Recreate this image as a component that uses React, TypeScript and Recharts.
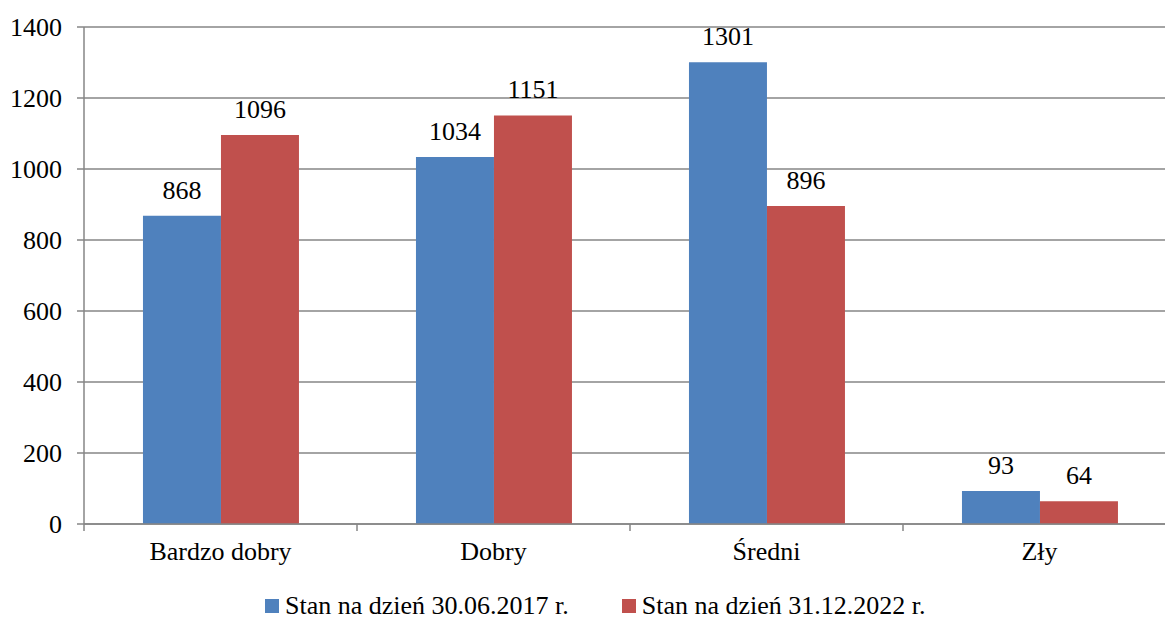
import { BarChart, Bar, XAxis, YAxis, CartesianGrid, Legend, LabelList } from 'recharts';

const categories = ['Bardzo dobry', 'Dobry', 'Średni', 'Zły'];
const stan2017 = [868, 1034, 1301, 93];
const stan2022 = [1096, 1151, 896, 64];
const yTicks = [0, 200, 400, 600, 800, 1000, 1200, 1400];

const series = [
  { key: 'stan2017', name: 'Stan na dzień 30.06.2017 r.', color: '#4F81BD' },
  { key: 'stan2022', name: 'Stan na dzień 31.12.2022 r.', color: '#C0504D' },
];

const data = categories.map((name, i) => ({
  name,
  stan2017: stan2017[i],
  stan2022: stan2022[i],
}));

const FONT = "'Liberation Serif', 'DejaVu Serif', serif";
const AXIS = '#868686';

const CHART_W = 1170;
const CHART_H = 611;
const Y_W = 76;
const M_RIGHT = 2;
const BAND = (CHART_W - Y_W - M_RIGHT) / categories.length;

const txt = { fontFamily: FONT, fontSize: 26 };

function CategoryTick(props: any) {
  const { x, y, payload } = props;
  const bx = x - BAND / 2;
  return (
    <g>
      <line x1={bx} y1={y - 9} x2={bx} y2={y - 2} stroke={AXIS} strokeWidth={1.5} />
      <text x={x} y={y} dy={27} textAnchor="middle" style={txt} fill="#000">
        {payload.value}
      </text>
    </g>
  );
}

function LegendContent() {
  return (
    <div style={{ display: 'flex', alignItems: 'center', ...txt, lineHeight: '26px', color: '#000', whiteSpace: 'nowrap' }}>
      {series.map((s, i) => (
        <div key={s.key} style={{ display: 'flex', alignItems: 'center', marginLeft: i === 0 ? 0 : 53 }}>
          <span style={{ display: 'inline-block', width: 14, height: 14, background: s.color, marginRight: 6 }} />
          <span>{s.name}</span>
        </div>
      ))}
    </div>
  );
}

export default function App() {
  return (
    <div style={{ position: 'absolute', left: 8, top: 8, width: 1157, height: CHART_H, overflow: 'hidden', fontFamily: FONT }}>
      <BarChart
        width={CHART_W}
        height={CHART_H}
        data={data}
        margin={{ top: 19, right: M_RIGHT, left: 0, bottom: 0 }}
        barCategoryGap="21.6%"
        barGap={0}
      >
        <CartesianGrid vertical={false} stroke={AXIS} strokeWidth={1.5} />
        <XAxis
          dataKey="name"
          height={69}
          tickLine={false}
          tickSize={7}
          tickMargin={2}
          axisLine={{ stroke: AXIS, strokeWidth: 1.5 }}
          tick={<CategoryTick />}
          interval={0}
        />
        <YAxis
          width={Y_W}
          domain={[0, 1400]}
          ticks={yTicks}
          tickSize={7}
          tickMargin={15}
          axisLine={{ stroke: AXIS, strokeWidth: 1.5 }}
          tickLine={{ stroke: AXIS, strokeWidth: 1.5 }}
          tick={{ style: txt, fill: '#000' }}
        />
        <Legend
          verticalAlign="bottom"
          content={<LegendContent />}
          wrapperStyle={{ left: 257, width: 'auto', height: 26, top: 585 }}
        />
        {series.map((s) => (
          <Bar key={s.key} dataKey={s.key} name={s.name} fill={s.color} isAnimationActive={false}>
            <LabelList dataKey={s.key} position="top" offset={17} style={txt} fill="#000" />
          </Bar>
        ))}
      </BarChart>
    </div>
  );
}
